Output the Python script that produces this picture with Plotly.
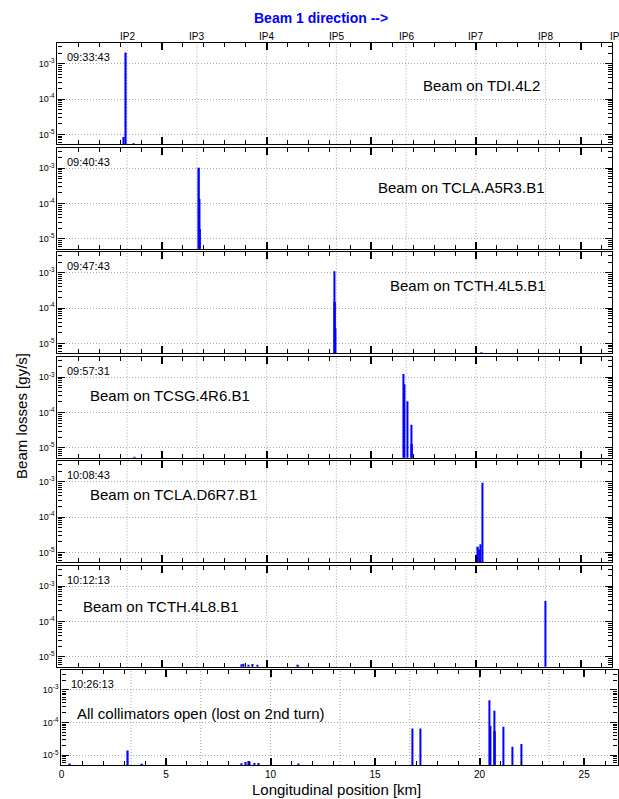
import plotly.graph_objects as go

W, H = 619, 799

# ---------------- data ----------------
ip_positions = [3.332, 6.664, 9.997, 13.329, 16.661, 19.994, 23.326]
ip_labels = ["IP2", "IP3", "IP4", "IP5", "IP6", "IP7", "IP8"]

times = ["09:33:43", "09:40:43", "09:47:43", "09:57:31", "10:08:43", "10:12:13", "10:26:13"]
labels = ["Beam on TDI.4L2", "Beam on TCLA.A5R3.B1", "Beam on TCTH.4L5.B1",
          "Beam on TCSG.4R6.B1", "Beam on TCLA.D6R7.B1", "Beam on TCTH.4L8.B1",
          "All collimators open (lost on 2nd turn)"]

p1_pos = [3.17, 3.27, 3.66]
p1_val = [8.5e-6, 2.1e-3, 5.6e-6]

p2_pos = [6.77, 6.80, 6.82]
p2_val = [1.03e-3, 1.35e-4, 1.9e-5]

p3_pos = [13.25, 13.27, 13.29, 20.25]
p3_val = [1.1e-3, 1.5e-4, 2.7e-5, 5.6e-6]

p4_pos = [3.70, 16.53, 16.59, 16.72, 16.93, 16.95]
p4_val = [5.6e-6, 1.24e-3, 6.3e-4, 2.1e-4, 4.5e-5, 1.3e-5]

p5_pos = [20.10, 20.16, 20.22, 20.31]
p5_val = [1.45e-5, 1.2e-5, 1.7e-5, 9.4e-4]

p6_pos = [8.81, 8.90, 9.13, 9.32, 9.56, 11.50, 23.33]
p6_val = [6.2e-6, 6.4e-6, 6.0e-6, 6.3e-6, 6.0e-6, 6.0e-6, 3.8e-4]

p7_pos = [0.41, 3.18, 3.86, 8.62, 8.82, 8.94, 9.01, 9.22, 9.44, 11.35,
          16.80, 17.17, 20.48, 20.52, 20.71, 20.74, 21.13, 21.56, 22.00]
p7_val = [5.6e-6, 1.4e-5, 5.5e-6, 5.7e-6, 6.2e-6, 6.6e-6, 6.3e-6, 5.8e-6, 5.8e-6, 5.6e-6,
          6.6e-5, 6.6e-5, 4.8e-4, 8.0e-5, 2.3e-4, 5.5e-5, 7.4e-5, 1.8e-5, 2.2e-5]

positions = [p1_pos, p2_pos, p3_pos, p4_pos, p5_pos, p6_pos, p7_pos]
values = [p1_val, p2_val, p3_val, p4_val, p5_val, p6_val, p7_val]

x_major = [0, 5, 10, 15, 20, 25]
y_major = [1e-5, 1e-4, 1e-3]
y_major_text = ["10<sup>-5</sup>", "10<sup>-4</sup>", "10<sup>-3</sup>"]
y_minor = [k * 10.0 ** d for d in range(-6, -2) for k in range(2, 10)]

# ---------------- layout geometry (pixels) ----------------
panels_px = [(43.3, 144.3), (147.8, 248.8), (252.3, 353.3), (356.8, 457.8),
             (461.3, 562.3), (565.8, 666.8), (670.3, 765.0)]
xdom_px = [(54.7, 611.7)] * 6 + [(58.7, 617.6)]
xrng = [[0, 26.49]] * 6 + [[0, 26.6]]
yrng = [[-5.28, -2.42]] * 6 + [[-5.3, -2.4]]

FONT = "Liberation Sans, Arial, sans-serif"
BLUE = "#0000ff"
GRID = "#a8a8a8"
DOT = "1px,2px"


def fx(px):
    return px / W


def fy(px):
    return 1 - px / H


fig = go.Figure()
layout = dict(
    width=W, height=H,
    margin=dict(l=0, r=0, t=0, b=0),
    paper_bgcolor="white", plot_bgcolor="white",
    showlegend=False, barmode="overlay",
    font=dict(family=FONT, color="black", size=10),
)
annotations = []
shapes = []

for i in range(7):
    n = "" if i == 0 else str(i + 1)
    fig.add_trace(go.Bar(
        x=positions[i], y=values[i], width=0.07,
        marker=dict(color=BLUE, line=dict(width=0)),
        xaxis="x" + n, yaxis="y" + n, hoverinfo="x+y",
    ))
    top, bot = panels_px[i]
    last = (i == 6)
    layout["xaxis" + n] = dict(
        domain=[fx(xdom_px[i][0]), fx(xdom_px[i][1])],
        range=xrng[i], anchor="y" + n,
        showline=True, linecolor="black", linewidth=1.3, mirror="ticks",
        tickmode="array", tickvals=x_major, ticks="inside", ticklen=7, tickwidth=1.5,
        tickcolor="black",
        minor=dict(dtick=1, tick0=0, ticks="inside", ticklen=4, tickwidth=1.2,
                   tickcolor="black", showgrid=False),
        showgrid=False, zeroline=False,
        showticklabels=last,
        tickfont=dict(size=10, family=FONT),
    )
    layout["yaxis" + n] = dict(
        domain=[fy(bot), fy(top)],
        type="log", range=yrng[i], anchor="x" + n,
        showline=True, linecolor="black", linewidth=1.3, mirror="ticks",
        tickmode="array", tickvals=y_major, ticktext=y_major_text,
        ticks="inside", ticklen=7, tickwidth=1.2, tickcolor="black",
        minor=dict(tickmode="array", tickvals=y_minor, ticks="inside", ticklen=4,
                   tickwidth=1, tickcolor="black", showgrid=False),
        showgrid=True, gridcolor=GRID, gridwidth=1, griddash=DOT,
        zeroline=False,
        tickfont=dict(size=9, family=FONT),
    )
    # IP gridlines
    for xp in ip_positions:
        shapes.append(dict(type="line", xref="x" + n, yref="y" + n + " domain",
                           x0=xp, x1=xp, y0=0, y1=1, layer="below",
                           line=dict(color=GRID, width=1, dash=DOT)))
    # timestamp
    annotations.append(dict(text=times[i], xref="paper", yref="paper",
                            x=fx(xdom_px[i][0] + 8), y=fy(top + 14),
                            xanchor="left", yanchor="middle", showarrow=False,
                            font=dict(size=11, family=FONT)))

# panel labels: (left px, center y px)
label_pos = [(420, 85), (375, 187), (387, 285), (85, 395), (85, 494), (78, 606), (72, 713)]
for i, (lx, ly) in enumerate(label_pos):
    annotations.append(dict(text=labels[i], xref="paper", yref="paper",
                            x=fx(lx), y=fy(ly), xanchor="left", yanchor="middle",
                            showarrow=False, font=dict(size=15, family=FONT)))

# IP labels on top
for xp, lab in zip(ip_positions, ip_labels):
    annotations.append(dict(text=lab, xref="x", yref="paper", x=xp, y=fy(37),
                            xanchor="center", yanchor="middle", showarrow=False,
                            font=dict(size=10, family=FONT)))
annotations.append(dict(text="IP1", xref="paper", yref="paper",
                        x=fx(608), y=fy(37),
                        xanchor="left", yanchor="middle", showarrow=False,
                        font=dict(size=10, family=FONT)))

# titles
annotations.append(dict(text="<b>Beam 1 direction --></b>", xref="paper", yref="paper",
                        x=fx(320), y=fy(18), xanchor="center", yanchor="middle",
                        showarrow=False, font=dict(size=14, color=BLUE, family=FONT)))
annotations.append(dict(text="Longitudinal position [km]", xref="paper", yref="paper",
                        x=fx(335), y=fy(789), xanchor="center", yanchor="middle",
                        showarrow=False, font=dict(size=15, family=FONT)))
annotations.append(dict(text="Beam losses [gy/s]", xref="paper", yref="paper",
                        x=fx(18), y=fy(416), xanchor="center", yanchor="middle",
                        textangle=-90, showarrow=False, font=dict(size=15, family=FONT)))

layout["annotations"] = annotations
layout["shapes"] = shapes
fig.update_layout(**layout)
fig.write_html("out.html")
